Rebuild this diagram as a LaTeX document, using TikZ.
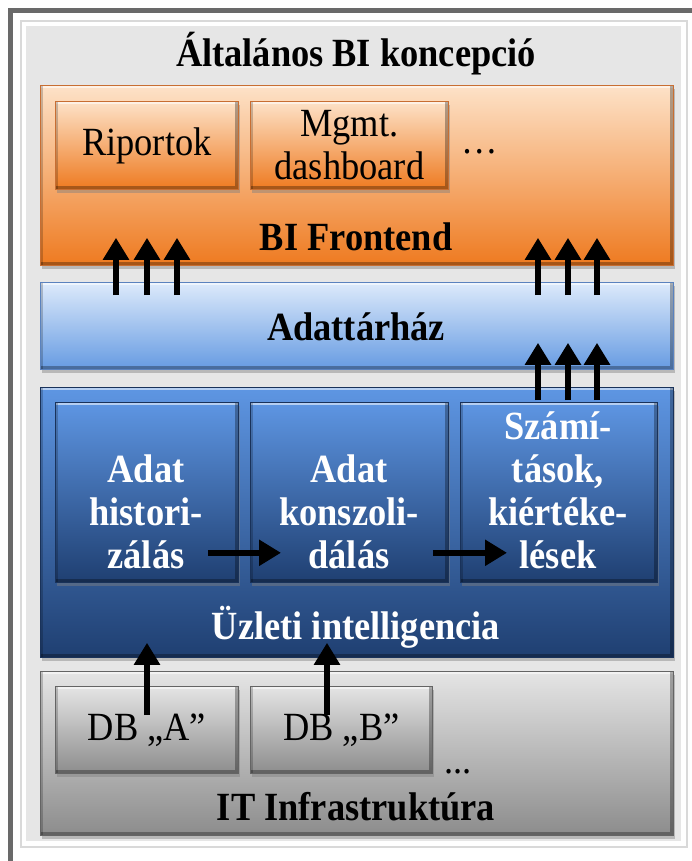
\documentclass[tikz,border=0pt]{standalone}
\usepackage{fontspec}
\setmainfont{Liberation Serif}[FakeStretch=0.91]
\usepackage{tikz}
\usetikzlibrary{arrows.meta,shadows,calc}
\definecolor{bipanel}{RGB}{230,230,230}
\definecolor{biframe}{RGB}{105,105,105}
\definecolor{biorangetop}{RGB}{253,226,200}
\definecolor{biorangebot}{RGB}{238,122,32}
\definecolor{biorangeline}{RGB}{200,110,50}
\definecolor{bilbluetop}{RGB}{221,234,251}
\definecolor{bilbluebot}{RGB}{102,155,226}
\definecolor{bilblueline}{RGB}{90,130,190}
\definecolor{bidbluetop}{RGB}{94,150,227}
\definecolor{bidbluebot}{RGB}{31,63,113}
\definecolor{bidblueline}{RGB}{25,50,90}
\definecolor{bigreytop}{RGB}{229,229,229}
\definecolor{bigreybot}{RGB}{140,140,140}
\definecolor{bigreyline}{RGB}{100,100,100}
\tikzstyle{bevel} = [rectangle, anchor=north west, inner sep=0pt, line width=0.8pt,
  drop shadow={shadow xshift=2pt, shadow yshift=-4pt, opacity=0.45},
  path picture={
    \draw[white, opacity=0.55, line width=6pt] (path picture bounding box.north west) -- (path picture bounding box.north east);
    \draw[black, opacity=0.2, line width=6pt] (path picture bounding box.north west) -- (path picture bounding box.south west);
    \draw[black, opacity=0.3, line width=6pt] (path picture bounding box.south west) -- (path picture bounding box.south east) -- (path picture bounding box.north east);
  }]
\tikzstyle{frontend} = [bevel, top color=biorangetop, bottom color=biorangebot, draw=biorangeline]
\tikzstyle{warehouse} = [bevel, top color=bilbluetop, bottom color=bilbluebot, draw=bilblueline]
\tikzstyle{business} = [bevel, top color=bidbluetop, bottom color=bidbluebot, draw=bidblueline]
\tikzstyle{infra} = [bevel, top color=bigreytop, bottom color=bigreybot, draw=bigreyline]
\tikzstyle{boxtext} = [font=\fontsize{40}{43}\selectfont, align=center]
\tikzstyle{layertext} = [font=\bfseries\fontsize{40}{43}\selectfont, inner sep=0pt]
\tikzstyle{steptext} = [layertext, text=white, align=center]
\tikzstyle{bigarrow} = [line width=5.5pt, -{Triangle[length=22pt,width=25pt]}, black]

\begin{document}
\begin{tikzpicture}[x=1pt, y=-1pt]
\useasboundingbox (0,0) rectangle (692,861);
% Frame
\fill[white] (0,0) rectangle (692,861);
\draw[line width=5pt, biframe] (10.5,861) -- (10.5,10.5) -- (692,10.5);
\draw[line width=1.5pt, gray!30] (21,847) -- (21,21) -- (687,21) -- (687,847) -- cycle;
\fill[bipanel] (26,26) rectangle (681,841);
\node[layertext] (title) at (356,54) {Általános BI koncepció};

% BI Frontend
\node (fe) [frontend, minimum width=633, minimum height=180] at (40,85) {};
\node (rep) [frontend, boxtext, minimum width=183, minimum height=88] at (55,101) {Riportok};
\node (mgmt) [frontend, boxtext, minimum width=198, minimum height=88] at (250,101) {Mgmt.\\dashboard};
\node[boxtext, inner sep=0pt] (femore) at (480,152) {…};
\node[layertext] (fetext) at (356,237) {BI Frontend};

% Adattarhaz
\node (dw) [warehouse, minimum width=633, minimum height=87] at (40,282) {};
\node[layertext] (dwtext) at (356,327) {Adattárház};

% Uzleti intelligencia
\node (ui) [business, minimum width=633, minimum height=270] at (40,387) {};
\node (hist) [business, minimum width=183, minimum height=180] at (55,402) {};
\node (kons) [business, minimum width=198, minimum height=180] at (250,402) {};
\node (szam) [business, minimum width=197, minimum height=180] at (460,402) {};
\node[steptext] (histtext) at (146,512) {Adat\\histori-\\zálás};
\node[steptext] (konstext) at (349,512) {Adat\\konszoli-\\dálás};
\node[steptext] (szamtext) at (558,490) {Számí-\\tások,\\kiértéke-\\lések};
\node[steptext] (uitext) at (356,627) {Üzleti intelligencia};

% IT Infrastruktura
\node (it) [infra, minimum width=633, minimum height=164] at (40,671) {};
\node (dba) [infra, boxtext, minimum width=183, minimum height=87] at (55,686) {DB „A”};
\node (dbb) [infra, boxtext, minimum width=182, minimum height=87] at (250,686) {DB „B”};
\node[boxtext, inner sep=0pt, anchor=base] (itmore) at (458,773) {...};
\node[layertext] (ittext) at (356,807) {IT Infrastruktúra};

% Arrows
\foreach \x in {116,147,177,538,568,597}
  \draw[bigarrow] ([yshift=-13pt]dw.north -| \x,0) -- ([yshift=28pt]fe.south -| \x,0);
\foreach \x in {538,568,597}
  \draw[bigarrow] ([yshift=2pt]szam.north -| \x,0) -- ([yshift=27pt]dw.south -| \x,0);
\draw[bigarrow] ([shift={(-31,-30)}]hist.south east) -- ([shift={(31,-30)}]kons.south west);
\draw[bigarrow] ([shift={(-16,-30)}]kons.south east) -- ([shift={(47,-30)}]szam.south west);
\foreach \n/\x in {dba/147,dbb/327}
  \draw[bigarrow] ([yshift=-29pt]\n.north -| \x,0) -- ([yshift=15pt]ui.south -| \x,0);
\end{tikzpicture}
\end{document}
